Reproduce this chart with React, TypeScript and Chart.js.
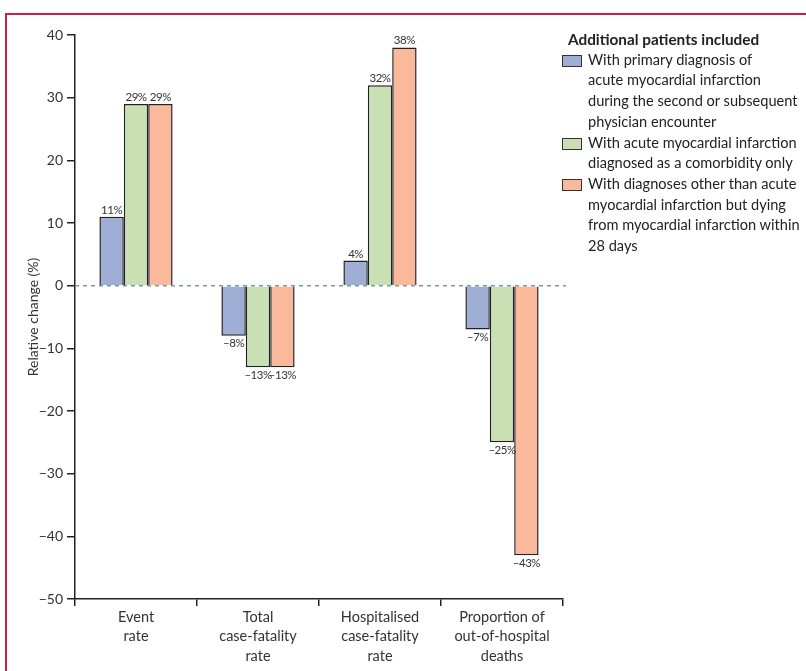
import React, { useEffect, useRef } from "react";
import { Chart, registerables } from "chart.js";

Chart.register(...registerables);

const categories: string[][] = [
  ["Event", "rate"],
  ["Total", "case-fatality", "rate"],
  ["Hospitalised", "case-fatality", "rate"],
  ["Proportion of", "out-of-hospital", "deaths"],
];
const primaryDiagnosis = [11, -8, 4, -7];
const comorbidityOnly = [29, -13, 32, -25];
const otherDiagnosesDying = [29, -13, 38, -43];
const seriesLabels = [
  "With primary diagnosis of acute myocardial infarction during the second or subsequent physician encounter",
  "With acute myocardial infarction diagnosed as a comorbidity only",
  "With diagnoses other than acute myocardial infarction but dying from myocardial infarction within 28 days",
];
const legendLines: string[][] = [
  ["With primary diagnosis of", "acute myocardial infarction", "during the second or subsequent", "physician encounter"],
  ["With acute myocardial infarction", "diagnosed as a comorbidity only"],
  ["With diagnoses other than acute", "myocardial infarction but dying", "from myocardial infarction within", "28 days"],
];
const colors = ["#9eaed4", "#c9dfb4", "#fbb99b"];
const yMin = -50;
const yMax = 40;
const yStep = 10;

const FONT = "Lato, 'Open Sans', sans-serif";
const fmt = (v: number) => (v < 0 ? "\u2212" + Math.abs(v) : String(v));
const fmtLabel = (v: number) => (v < 0 ? "\u2013" + Math.abs(v) : String(v)) + "%";

const valueLabels = {
  id: "valueLabels",
  afterDatasetsDraw(chart: any) {
    const ctx = chart.ctx;
    ctx.save();
    ctx.font = "11.5px " + FONT;
    try { (ctx as any).letterSpacing = "-0.5px"; } catch (e) {}
    ctx.fillStyle = "#333";
    ctx.textAlign = "center";
    chart.data.datasets.forEach((ds: any, i: number) => {
      const meta = chart.getDatasetMeta(i);
      meta.data.forEach((bar: any, j: number) => {
        const v = ds.data[j];
        const txt = fmtLabel(v);
        if (v >= 0) {
          ctx.textBaseline = "bottom";
          ctx.fillText(txt, bar.x, bar.y - 1);
        } else {
          ctx.textBaseline = "top";
          ctx.fillText(txt, bar.x, bar.y + 2);
        }
      });
    });
    try { (ctx as any).letterSpacing = "0px"; } catch (e) {}
    // dashed zero line
    const y = chart.scales.y.getPixelForValue(0);
    ctx.strokeStyle = "#7c98a4";
    ctx.lineWidth = 1.5;
    ctx.setLineDash([4, 4]);
    ctx.beginPath();
    ctx.moveTo(chart.chartArea.left, y);
    ctx.lineTo(chart.chartArea.right + 3, y);
    ctx.stroke();
    ctx.restore();
  },
};

export default function App() {
  const ref = useRef<HTMLCanvasElement | null>(null);
  useEffect(() => {
    if (!ref.current) return;
    const chart = new Chart(ref.current, {
      type: "bar",
      data: {
        labels: categories,
        datasets: [primaryDiagnosis, comorbidityOnly, otherDiagnosesDying].map((d, i) => ({
          label: seriesLabels[i],
          data: d,
          backgroundColor: colors[i],
          borderColor: "#222",
          borderWidth: 1.5,
          barPercentage: 1,
          categoryPercentage: 0.6,
        })),
      },
      options: {
        animation: false,
        responsive: false,
        maintainAspectRatio: false,
        layout: { padding: { top: 35, right: 12, left: 0, bottom: 0 } },
        plugins: { legend: { display: false }, tooltip: { enabled: false } },
        scales: {
          x: {
            offset: true,
            grid: { display: true, drawOnChartArea: false, drawTicks: true, tickLength: 7, color: "#222", lineWidth: 1.5, offset: true },
            border: { display: true, color: "#222", width: 1.5 },
            ticks: { color: "#333", font: { family: FONT, size: 14.5, lineHeight: 1.32 }, padding: 2, maxRotation: 0 },
            afterFit: (s: any) => { s.height = 72; },
          },
          y: {
            min: yMin,
            max: yMax,
            grid: { display: true, drawOnChartArea: false, drawTicks: true, tickLength: 8, color: "#222", lineWidth: 1.5 },
            border: { display: true, color: "#222", width: 1.5 },
            ticks: { stepSize: yStep, color: "#333", font: { family: FONT, size: 14 }, padding: 4, callback: (v: any) => fmt(Number(v)) },
            title: { display: true, text: "Relative change (%)", color: "#333", font: { family: FONT, size: 14 }, padding: { top: 25, bottom: 0 } },
            afterFit: (s: any) => { s.width = 75; },
          },
        },
      },
      plugins: [valueLabels],
    });
    return () => chart.destroy();
  }, []);

  return (
    <div style={{ position: "fixed", left: 0, top: 0, width: 806, height: 671, background: "#fff", overflow: "hidden", fontFamily: FONT }}>
      <canvas ref={ref} width={575} height={671} style={{ position: "absolute", left: 0, top: 0, width: 575, height: 671 }} />
      <div style={{ position: "absolute", left: 5, top: 13, width: 900, height: 800, boxSizing: "border-box", borderTop: "2px solid #c81e50", borderLeft: "2px solid #c81e50", zIndex: 5, pointerEvents: "none" }} />
      <div style={{ position: "absolute", left: 568, top: 29, width: 240, color: "#222", fontSize: 14.6, lineHeight: "20.7px" }}>
        <div style={{ fontWeight: 700, fontSize: 15.3 }}>Additional patients included</div>
        {legendLines.map((lines, i) => (
          <div key={i} style={{ position: "relative", paddingLeft: 20 }}>
            <span style={{ position: "absolute", left: -6, top: 5, width: 18, height: 10, background: colors[i], border: "1.2px solid #333" }} />
            {lines.map((l, k) => (
              <div key={k} style={{ whiteSpace: "nowrap" }}>{l}</div>
            ))}
          </div>
        ))}
      </div>
    </div>
  );
}
